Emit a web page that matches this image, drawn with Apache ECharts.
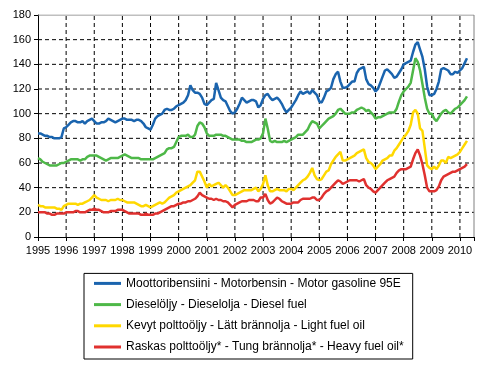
<!DOCTYPE html>
<html><head><meta charset="utf-8">
<script src="https://cdn.jsdelivr.net/npm/echarts@6/dist/echarts.min.js"></script>
<style>html,body{margin:0;padding:0;background:#fff}#c{width:497px;height:368px}</style>
</head><body><div id="c"></div>
<script>
const startYear = 1995;
const yearTicks = [1996,1997,1998,1999,2000,2001,2002,2003,2004,2005,2006,2007,2008,2009,2010];
const valueTicks = [20,40,60,80,100,120,140,160];
const xEnd = 2010.5;
const yEnd = 180;
const names = [
  'Moottoribensiini - Motorbensin - Motor gasoline 95E',
  'Dieselöljy - Dieselolja - Diesel fuel',
  'Kevyt polttoöljy - Lätt brännolja - Light fuel oil',
  'Raskas polttoöljy* - Tung brännolja* - Heavy fuel oil*'
];
// monthly values, Jan 1995 - Apr 2010
const gasoline = [
  84,84,83,82,82,81,81,80,80,80,81,88,
  89,91,93,94,94,93,93,94,92,94,95,96,
  94,92,92,93,93,94,96,95,94,93,94,95,
  96,96,95,95,95,94,95,95,94,92,89,88,
  87,91,96,98,99,100,103,104,103,103,104,106,
  107,108,109,111,115,123,119,117,117,116,113,108,
  107,109,111,112,125,119,113,111,110,106,102,100,
  101,104,108,113,111,109,110,111,111,110,105,107,
  112,115,116,113,111,112,113,111,108,104,101,103,
  105,108,111,115,118,116,117,118,116,119,117,115,
  110,109,113,118,119,121,128,132,134,126,121,121,
  122,124,126,126,133,136,137,138,128,124,123,121,
  118,120,125,130,135,136,134,132,129,130,133,136,
  140,141,142,143,150,156,158,152,146,136,122,115,
  115,116,120,126,136,137,136,135,132,132,134,133,
  135,137,141,145
];
const diesel = [
  64,63,61,60,59,58,58,58,58,59,60,60,
  61,62,63,63,63,63,62,63,63,65,66,66,
  66,66,65,64,63,62,63,64,64,64,64,65,
  66,67,66,65,64,64,64,64,63,63,63,63,
  63,63,64,65,66,67,68,71,72,72,73,77,
  81,82,82,82,83,81,81,83,90,93,92,89,
  84,82,82,82,83,83,83,82,82,81,80,79,
  79,79,79,78,78,77,77,77,78,79,79,80,
  84,96,88,78,77,78,77,77,77,78,77,78,
  79,80,81,83,83,83,85,87,91,94,93,92,
  88,90,92,94,96,97,98,100,103,104,102,100,
  100,100,101,101,103,104,105,104,102,103,101,99,
  96,97,97,98,99,100,101,101,101,104,110,115,
  118,120,122,125,135,145,142,135,124,113,104,100,
  100,96,94,97,100,102,103,101,100,102,104,105,
  107,109,111,114
];
const lightOil = [
  26,25,25,24,24,24,24,24,23,23,22,25,
  26,27,27,27,27,26,27,27,28,29,30,32,
  34,32,31,30,30,30,29,30,30,30,31,30,
  30,29,28,28,28,28,27,26,25,25,26,25,
  24,25,26,27,28,27,28,30,32,33,34,36,
  37,38,39,40,41,42,44,46,53,53,49,45,
  40,43,41,42,43,44,42,40,42,40,37,34,
  34,35,36,37,38,38,38,38,39,40,37,39,
  43,50,42,37,37,38,39,38,38,38,37,39,
  39,38,40,42,44,46,47,49,52,56,50,47,
  46,47,50,53,54,59,62,65,67,69,62,62,
  63,64,65,66,68,69,70,71,64,61,60,58,
  55,57,59,62,63,64,66,66,70,72,75,78,
  81,83,86,91,101,103,100,88,86,72,58,56,
  55,57,55,58,62,62,60,65,64,65,66,67,
  69,72,75,78
];
const heavyOil = [
  20,20,20,20,19,19,18,18,19,19,19,19,
  20,20,20,20,21,21,20,20,20,21,22,22,
  23,22,22,21,20,20,20,21,21,21,22,22,
  22,21,20,19,19,19,19,19,18,18,19,18,
  18,18,19,19,20,21,22,23,24,25,25,26,
  27,27,28,28,29,29,30,31,33,36,34,33,
  32,31,31,30,31,30,30,29,29,28,26,24,
  26,27,28,29,29,29,30,30,30,29,29,32,
  32,35,30,27,28,30,32,31,29,28,27,27,
  27,28,28,28,30,31,31,31,31,32,32,30,
  30,32,35,37,38,40,42,44,46,45,43,44,
  45,46,46,46,46,45,46,47,42,40,39,37,
  36,38,40,42,44,46,47,48,49,52,54,55,
  55,55,56,57,63,68,71,66,59,50,40,37,
  37,37,38,41,46,49,50,51,52,53,53,54,
  55,56,57,59
];
const colors = ['#1a64ae', '#4eb848', '#ffd800', '#e0312f'];
const allSeries = [gasoline, diesel, lightOil, heavyOil];

const toPoints = arr => arr.map((v, i) => [startYear + i / 12, v]);
const font = 'Liberation Sans, Arial, sans-serif';
const dash = { color: '#000', type: [4, 3], width: 1 };
const border = { color: '#808080', type: 'solid', width: 1 };

// grid lines drawn as plain line series through the axes
const gridLine = (pts, style, id) => ({
  id: id, name: id, type: 'line', data: pts, showSymbol: false, symbol: 'none',
  silent: true, z: 1, lineStyle: style, color: style.color, emphasis: { disabled: true }, tooltip: { show: false }
});
const gridSeries = []
  .concat(yearTicks.map(v => gridLine([[v, 0], [v, yEnd]], dash, 'gx' + v)))
  .concat(valueTicks.map(v => gridLine([[startYear, v], [xEnd, v]], dash, 'gy' + v)))
  .concat([gridLine([[xEnd, 0], [xEnd, yEnd]], border, 'bRight'),
           gridLine([[startYear, yEnd], [xEnd, yEnd]], border, 'bTop')]);

const chart = echarts.init(document.getElementById('c'));
chart.setOption({
  animation: false,
  grid: { left: 38, top: 15, right: 23, bottom: 131 },
  xAxis: {
    type: 'value', min: startYear, max: xEnd, interval: 1,
    axisLine: { show: true, onZero: false, lineStyle: { color: '#000' } },
    axisTick: { show: true, length: 4, lineStyle: { color: '#000' } },
    axisLabel: { color: '#000', fontSize: 11, fontFamily: font, margin: 8,
      formatter: v => (Math.abs(v - Math.round(v)) < 1e-6 ? String(Math.round(v)) : '') },
    splitLine: { show: false }
  },
  yAxis: {
    type: 'value', min: 0, max: yEnd, interval: 20,
    axisLine: { show: true, onZero: false, lineStyle: { color: '#000' } },
    axisTick: { show: true, length: 4, lineStyle: { color: '#000' } },
    axisLabel: { color: '#000', fontSize: 11, fontFamily: font, margin: 7 },
    splitLine: { show: false }
  },
  legend: {
    orient: 'vertical', left: 84, bottom: 9,
    icon: 'rect', itemWidth: 27, itemHeight: 3, itemGap: 7.2,
    padding: [3, 9, 5, 10],
    borderColor: '#000', borderWidth: 1,
    textStyle: { fontSize: 12, color: '#000', lineHeight: 14, fontFamily: font },
    data: names
  },
  series: gridSeries.concat(allSeries.map((arr, k) => ({
    name: names[k], type: 'line', data: toPoints(arr),
    showSymbol: false, z: 10,
    color: colors[k],
    lineStyle: { width: 2.5, color: colors[k] }
  })))
});
</script></body></html>
